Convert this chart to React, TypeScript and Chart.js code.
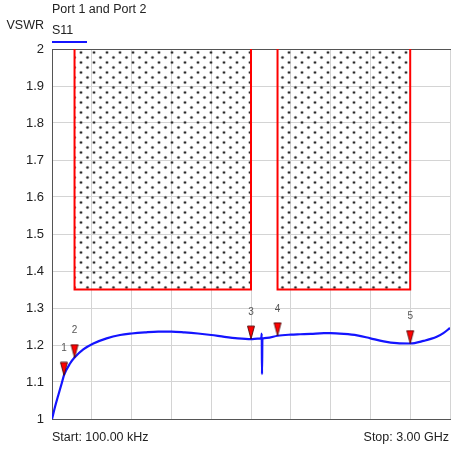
import React, { useEffect, useRef } from "react";
import { Chart, ChartConfiguration, Plugin, registerables } from "chart.js";

Chart.register(...registerables);

// S11 trace, frequency in GHz
const freqs = [
  0.0001, 0.023, 0.048, 0.073, 0.09, 0.136, 0.17, 0.236, 0.312, 0.412,
  0.513, 0.6, 0.7, 0.8, 0.9, 1.0, 1.1, 1.2, 1.3, 1.4,
  1.5, 1.55, 1.578, 1.581, 1.583, 1.586, 1.62, 1.7, 1.8, 1.87,
  1.95, 2.05, 2.1, 2.2, 2.3, 2.4, 2.5, 2.6, 2.7, 2.8,
  2.9, 2.95, 3.0,
];
const vswr = [
  1.0, 1.033, 1.065, 1.096, 1.118, 1.15, 1.166, 1.188, 1.204, 1.218,
  1.227, 1.231, 1.234, 1.236, 1.236, 1.234, 1.231, 1.227, 1.222, 1.218,
  1.216, 1.217, 1.219, 1.231, 1.121, 1.217, 1.219, 1.225, 1.228, 1.229,
  1.23, 1.232, 1.232, 1.23, 1.226, 1.218, 1.21, 1.205, 1.204, 1.211,
  1.222, 1.232, 1.246,
];

// markers
const markerFreqs = [0.09, 0.17, 1.5, 1.7, 2.7];
const markerVswr = [1.118, 1.166, 1.216, 1.225, 1.204];
const markerLabels = ["1", "2", "3", "4", "5"];

// limit masks (GHz) with their lower VSWR edge
const maskStarts = [0.17, 1.7];
const maskStops = [1.5, 2.7];
const maskLimit = 1.35;

const startFreq = 0.0001;
const stopFreq = 3.0;
const yTicks = [1, 1.1, 1.2, 1.3, 1.4, 1.5, 1.6, 1.7, 1.8, 1.9, 2];

const FONT = "'Liberation Sans', Arial, sans-serif";
const TEXT = "#222";

function dotPattern(): CanvasPattern | string {
  const c = document.createElement("canvas");
  c.width = 13;
  c.height = 10;
  const g = c.getContext("2d");
  if (!g) return "rgba(0,0,0,0.2)";
  for (const [x, y] of [[3, 2.5], [9.5, 7.5]]) {
    g.fillStyle = "rgba(90,90,90,0.45)";
    g.beginPath();
    g.arc(x, y, 1.8, 0, Math.PI * 2);
    g.fill();
    g.fillStyle = "#2a2a2a";
    g.beginPath();
    g.arc(x, y, 1.1, 0, Math.PI * 2);
    g.fill();
  }
  return g.createPattern(c, "repeat") || "#ccc";
}

function markerImage(): HTMLCanvasElement {
  const c = document.createElement("canvas");
  c.width = 10;
  c.height = 28;
  const g = c.getContext("2d");
  if (g) {
    g.beginPath();
    g.moveTo(1.5, 1);
    g.lineTo(8.5, 1);
    g.lineTo(5, 14);
    g.closePath();
    g.fillStyle = "#ff0000";
    g.fill();
    g.strokeStyle = "#3a0000";
    g.lineWidth = 0.8;
    g.stroke();
  }
  return c;
}

const decorations: Plugin = {
  id: "decorations",
  afterDatasetsDraw(chart) {
    const { ctx } = chart;
    const meta = chart.getDatasetMeta(0);
    ctx.save();
    ctx.font = `10px ${FONT}`;
    ctx.fillStyle = "#555";
    ctx.textAlign = "center";
    ctx.textBaseline = "middle";
    meta.data.forEach((pt, i) => {
      ctx.fillText(markerLabels[i], pt.x, pt.y - 27);
    });
    ctx.restore();
  },
  afterDraw(chart) {
    const { ctx, chartArea } = chart;
    const { left, right, top, bottom } = chartArea;
    ctx.save();
    ctx.fillStyle = TEXT;
    ctx.textBaseline = "middle";
    ctx.font = `12.5px ${FONT}`;
    ctx.textAlign = "left";
    ctx.fillText("Port 1 and Port 2", left, top - 39);
    ctx.fillText("S11", left, top - 18);
    ctx.fillText("Start: 100.00 kHz", left, bottom + 19);
    ctx.textAlign = "right";
    ctx.fillText("Stop: 3.00 GHz", right - 1, bottom + 19);
    ctx.font = `12.5px ${FONT}`;
    ctx.fillText("VSWR", left - 8, top - 23);
    ctx.strokeStyle = "#1414ff";
    ctx.lineWidth = 2;
    ctx.beginPath();
    ctx.moveTo(left, top - 7);
    ctx.lineTo(left + 35, top - 7);
    ctx.stroke();
    ctx.restore();
  },
};

function configOf(): ChartConfiguration {
  const trace = freqs.map((f, i) => ({ x: f, y: vswr[i] }));
  const markers = markerFreqs.map((f, i) => ({ x: f, y: markerVswr[i] }));
  const pattern = dotPattern();
  const masks = maskStarts.map((s, i) => ({
    data: [
      { x: s, y: 2 },
      { x: s, y: maskLimit },
      { x: maskStops[i], y: maskLimit },
      { x: maskStops[i], y: 2 },
    ],
    borderColor: "#ff0000",
    borderWidth: 2,
    backgroundColor: pattern,
    fill: "end",
    pointRadius: 0,
    tension: 0,
  }));

  return {
    type: "line",
    data: {
      datasets: [
        {
          data: markers,
          showLine: false,
          pointStyle: markerImage(),
          pointRadius: 5,
        },
        {
          data: trace,
          borderColor: "#1414ff",
          borderWidth: 2.2,
          pointRadius: 0,
          cubicInterpolationMode: "monotone",
          fill: false,
        },
        ...masks,
      ] as any,
    },
    options: {
      responsive: false,
      animation: false,
      layout: {
        autoPadding: false,
        padding: { top: 49, bottom: 35, left: 0, right: 1 },
      },
      plugins: {
        legend: { display: false },
        tooltip: { enabled: false },
      },
      scales: {
        x: {
          type: "linear",
          min: startFreq,
          max: stopFreq,
          afterBuildTicks: (scale) => {
            const step = (stopFreq - startFreq) / 10;
            scale.ticks = yTicks.map((_, i) => ({ value: startFreq + i * step }));
          },
          grid: { color: "#d4d4d4", drawTicks: false },
          border: { color: "#555" },
          ticks: { display: false },
          afterFit: (scale) => { scale.height = 0; },
        },
        x2: {
          type: "linear",
          position: "top",
          min: startFreq,
          max: stopFreq,
          grid: { display: false, drawTicks: false },
          border: { color: "#555" },
          ticks: { display: false },
          afterFit: (scale) => { scale.height = 0; },
        },
        y: {
          min: 1,
          max: 2,
          afterBuildTicks: (scale) => {
            scale.ticks = yTicks.map((v) => ({ value: v }));
          },
          grid: { color: "#d4d4d4", drawTicks: false },
          border: { color: "#555" },
          ticks: {
            padding: 8,
            color: TEXT,
            font: { family: FONT, size: 13 },
            callback: (v) => String(parseFloat(Number(v).toFixed(1))),
          },
          afterFit: (scale) => { scale.width = 52; },
        },
      },
    },
    plugins: [decorations],
  };
}

export default function App() {
  const canvas = useRef<HTMLCanvasElement>(null);
  useEffect(() => {
    const context2d = canvas.current?.getContext("2d");
    const chart = context2d ? new Chart(context2d, configOf()) : null;
    return () => chart?.destroy();
  }, []);

  return (
    <div style={{ position: "absolute", left: 0, top: 0, background: "#fff" }}>
      <canvas width="451" height="454" ref={canvas}
        style={{ display: "block" }} />
    </div>
  );
}
